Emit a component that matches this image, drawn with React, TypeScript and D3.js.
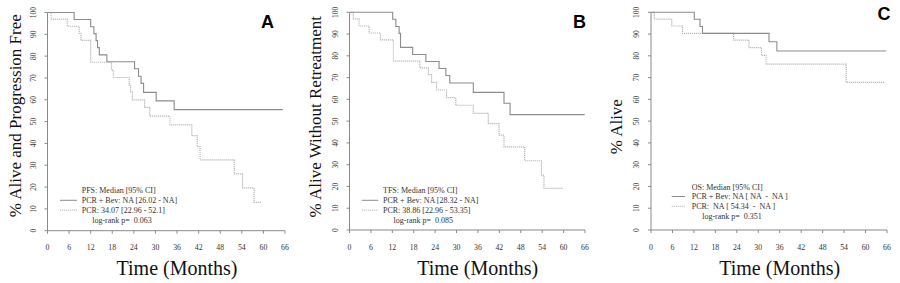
import React from "react";
import * as d3 from "d3";

// ---------- data ----------
const monthTicks = [0, 6, 12, 18, 24, 30, 36, 42, 48, 54, 60, 66];
const pctTicks = [0, 10, 20, 30, 40, 50, 60, 70, 80, 90, 100];

// Panel A: PFS
const pfsBevTimes = [0, 7.4, 12.0, 12.9, 13.5, 13.9, 14.4, 16.5, 24.2, 25.3, 26.0, 26.7, 30.2, 35.2];
const pfsBevSurv = [100, 96.8, 93.5, 90.3, 87.1, 83.9, 80.6, 77.4, 74.2, 70.8, 67.5, 63.4, 59.5, 55.5];
const pfsBevEnd = 65.4;
const pfsPcrTimes = [0, 1.0, 5.5, 8.8, 9.3, 12.0, 17.8, 18.3, 22.7, 23.1, 23.6, 27.0, 28.4, 34.0, 40.1, 41.6, 42.4, 51.9, 54.2, 57.4];
const pfsPcrSurv = [100, 97.0, 93.7, 90.4, 87.2, 77.2, 73.6, 70.2, 66.8, 63.5, 60.0, 56.5, 52.5, 48.5, 43.6, 38.5, 32.5, 26.0, 19.6, 13.0];
const pfsPcrEnd = 59.5;

// Panel B: TFS
const tfsBevTimes = [0, 12.1, 13.0, 13.9, 14.3, 17.7, 21.4, 25.1, 27.0, 28.1, 34.7, 43.3, 45.0];
const tfsBevSurv = [100, 96.8, 93.5, 90.3, 83.9, 80.6, 77.4, 74.2, 71.0, 67.5, 63.2, 58.2, 53.0];
const tfsBevEnd = 65.9;
const tfsPcrTimes = [0, 1.07, 2.7, 5.5, 8.7, 12.3, 19.7, 22.1, 23.0, 24.4, 27.2, 29.8, 34.7, 38.9, 41.9, 43.3, 49.1, 53.8, 54.5];
const tfsPcrSurv = [100, 97.0, 93.7, 90.5, 87.3, 77.6, 74.5, 71.4, 67.8, 64.3, 60.8, 57.3, 53.6, 48.9, 43.6, 38.2, 31.8, 25.2, 19.1];
const tfsPcrEnd = 59.8;

// Panel C: OS
const osBevTimes = [0, 12.1, 13.7, 14.4, 33.0, 35.2];
const osBevSurv = [100, 96.8, 93.5, 90.3, 86.5, 82.2];
const osBevEnd = 65.8;
const osPcrTimes = [0, 0.9, 5.8, 8.8, 23.1, 27.4, 30.9, 32.2, 54.6];
const osPcrSurv = [100, 96.9, 93.7, 90.3, 87.2, 83.8, 80.2, 76.2, 67.8];
const osPcrEnd = 65.3;

const panelLetters = ["A", "B", "C"];
const yTitles = ["% Alive and Progression Free", "% Alive Without Retreatment", "% Alive"];
const xTitle = "Time (Months)";
const legendHeads = ["PFS: Median [95% CI]", "TFS: Median [95% CI]", "OS: Median [95% CI]"];
const legendBev = ["PCR + Bev: NA [26.02 - NA]", "PCR + Bev: NA [28.32 - NA]", "PCR + Bev: NA [ NA  -  NA ]"];
const legendPcr = ["PCR: 34.07 [22.96 - 52.1]", "PCR: 38.86 [22.96 - 53.35]", "PCR:  NA [ 54.34  -  NA ]"];
const logRank = ["log-rank p=  0.063", "log-rank p=  0.085", "log-rank p=  0.351"];

// ---------- layout ----------
const layouts = [
  { x0: 47.5, x1: 285, yTop: 12.5, yBot: 230.7, titleX: 20.5, titleY: 115.7, xTitleX: 177, letterX: 267.5, letterY: 28.3, legX: 81.7, legLine: [60, 77], legY: 190.5 },
  { x0: 349.5, x1: 585, yTop: 12.3, yBot: 230, titleX: 320.5, titleY: 116.7, xTitleX: 477.7, letterX: 579.5, letterY: 27.7, legX: 383, legLine: [361.7, 378.3], legY: 190.5 },
  { x0: 651, x1: 887, yTop: 12.3, yBot: 230, titleX: 621.5, titleY: 126.7, xTitleX: 779.7, letterX: 884, letterY: 20.3, legX: 691.7, legLine: [671.7, 685], legY: 186.7 },
];

const seriesSets = [
  { bev: [pfsBevTimes, pfsBevSurv, pfsBevEnd], pcr: [pfsPcrTimes, pfsPcrSurv, pfsPcrEnd] },
  { bev: [tfsBevTimes, tfsBevSurv, tfsBevEnd], pcr: [tfsPcrTimes, tfsPcrSurv, tfsPcrEnd] },
  { bev: [osBevTimes, osBevSurv, osBevEnd], pcr: [osPcrTimes, osPcrSurv, osPcrEnd] },
];

const SERIF = "'Liberation Serif', 'Times New Roman', serif";
const SANS = "'Liberation Sans', Arial, sans-serif";
const AXIS = "#8a8a8a";
const BEV_COLOR = "#8c8c8c";
const PCR_COLOR = "#b8b8b8";
const PRE = { whiteSpace: "pre" as const };

function Panel({ i }: { i: number }) {
  const L = layouts[i];
  const x = d3.scaleLinear().domain([0, 66]).range([L.x0, L.x1]);
  const y = d3.scaleLinear().domain([0, 100]).range([L.yBot, L.yTop]);
  const line = d3
    .line<[number, number]>()
    .x((d) => x(d[0]))
    .y((d) => y(d[1]))
    .curve(d3.curveStepAfter);
  const pts = (s: any[]): [number, number][] => {
    const [times, surv, end] = s as [number[], number[], number];
    const p: [number, number][] = times.map((t, k) => [t, surv[k]]);
    p.push([end, surv[surv.length - 1]]);
    return p;
  };
  const S = seriesSets[i];
  const lh = 9.8;
  return (
    <g>
      {/* y axis */}
      <line x1={L.x0} x2={L.x0} y1={y(0)} y2={y(100)} stroke={AXIS} strokeWidth={1} />
      {pctTicks.map((v) => (
        <g key={"y" + v}>
          <line x1={L.x0 - 3} x2={L.x0} y1={y(v)} y2={y(v)} stroke={AXIS} strokeWidth={1} />
          <text
            transform={`translate(${L.x0 - 12},${y(v)}) rotate(-90)`}
            textAnchor="middle"
            fontFamily={SERIF}
            fontSize={7.5}
            fill="#333"
          >
            {v}
          </text>
        </g>
      ))}
      {/* x axis */}
      <line x1={x(0)} x2={x(66)} y1={L.yBot} y2={L.yBot} stroke={AXIS} strokeWidth={1} />
      {monthTicks.map((t) => (
        <g key={"x" + t}>
          <line x1={x(t)} x2={x(t)} y1={L.yBot} y2={L.yBot + 3} stroke={AXIS} strokeWidth={1} />
          <text x={x(t)} y={249.5} textAnchor="middle" fontFamily={SERIF} fontSize={7.8} fill="#333">
            {t}
          </text>
        </g>
      ))}
      {/* curves */}
      <path d={line(pts(S.pcr)) || ""} fill="none" stroke={PCR_COLOR} strokeWidth={1.2} strokeDasharray="1.2,0.8" />
      <path d={line(pts(S.bev)) || ""} fill="none" stroke={BEV_COLOR} strokeWidth={1.1} />
      {/* titles */}
      <text
        transform={`translate(${L.titleX},${L.titleY}) rotate(-90)`}
        textAnchor="middle"
        fontFamily={SERIF}
        fontSize={17}
        fill="#111"
      >
        {yTitles[i]}
      </text>
      <text x={L.xTitleX} y={275} textAnchor="middle" fontFamily={SERIF} fontSize={20} fill="#111">
        {xTitle}
      </text>
      <text x={L.letterX} y={L.letterY} textAnchor="middle" fontFamily={SANS} fontWeight="bold" fontSize={18} fill="#000">
        {panelLetters[i]}
      </text>
      {/* legend */}
      <g fontFamily={SERIF} fontSize={8} fill="#333">
        <text x={L.legX} y={L.legY + 2.8} xmlSpace="preserve" style={PRE}>{legendHeads[i]}</text>
        <line x1={L.legLine[0]} x2={L.legLine[1]} y1={L.legY + lh} y2={L.legY + lh} stroke={BEV_COLOR} strokeWidth={1} />
        <text x={L.legX} y={L.legY + lh + 2.8} xmlSpace="preserve" style={PRE}>{legendBev[i]}</text>
        <line x1={L.legLine[0]} x2={L.legLine[1]} y1={L.legY + 2 * lh} y2={L.legY + 2 * lh} stroke={PCR_COLOR} strokeWidth={1} strokeDasharray="1.2,0.8" />
        <text x={L.legX} y={L.legY + 2 * lh + 2.8} xmlSpace="preserve" style={PRE}>{legendPcr[i]}</text>
        <text x={L.legX + 10.5} y={L.legY + 3 * lh + 2.8} xmlSpace="preserve" style={PRE}>{logRank[i]}</text>
      </g>
    </g>
  );
}

export default function App() {
  return (
    <svg
      width={900}
      height={283}
      viewBox="0 0 900 283"
      style={{ position: "absolute", left: 0, top: 0, background: "#fff" }}
    >
      <rect x={0} y={0} width={900} height={283} fill="#fff" />
      {[0, 1, 2].map((i) => (
        <Panel key={i} i={i} />
      ))}
    </svg>
  );
}
